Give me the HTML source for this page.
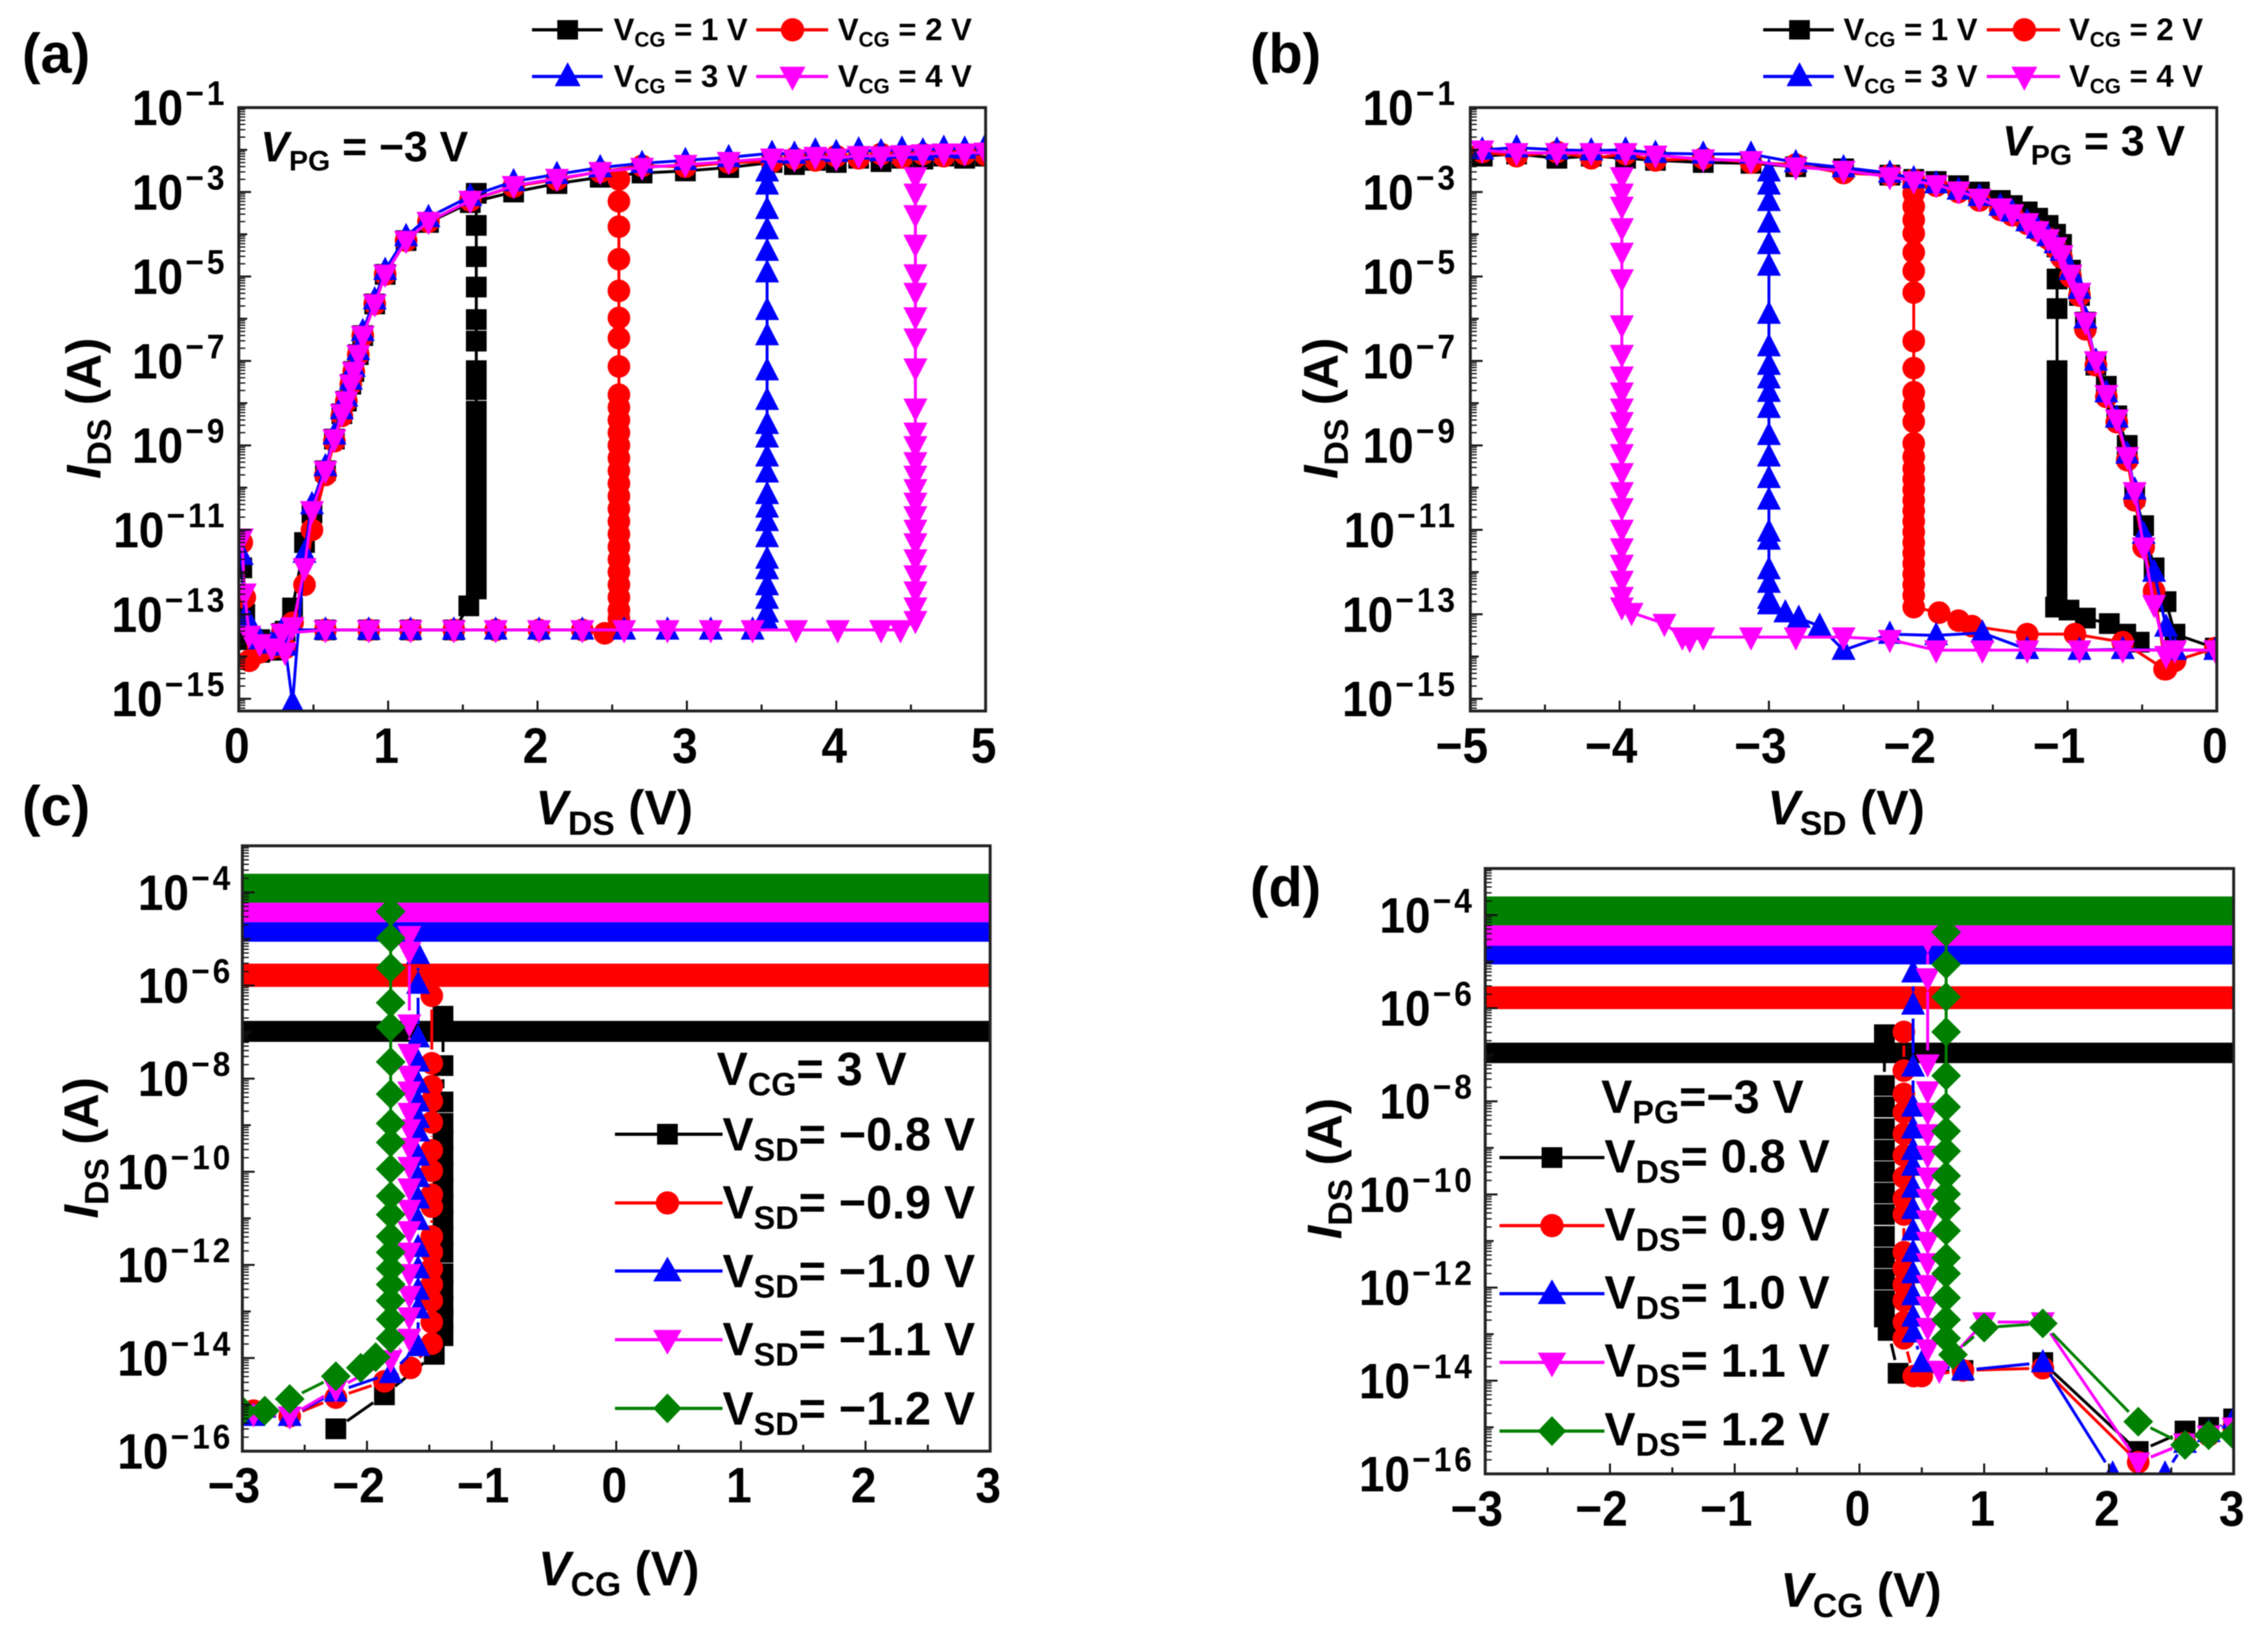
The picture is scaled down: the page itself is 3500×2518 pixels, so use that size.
<!DOCTYPE html>
<html lang="en">
<head>
<meta charset="utf-8">
<title>Transfer and output characteristics, panels a to d</title>
<style>
html,body{margin:0;padding:0;background:#fff;}
svg{display:block;filter:blur(0.7px);}
text{font-family:"Liberation Sans",sans-serif;font-weight:bold;fill:#000;}
.tick{font-size:77px;}
.title{font-size:75px;}
.letter{font-size:86px;}
.leg-s{font-size:48px;}
.leg-l{font-size:72px;}
.note{font-size:66px;}
</style>
</head>
<body>
<svg id="figure" xmlns="http://www.w3.org/2000/svg" width="3500" height="2518" viewBox="0 0 3500 2518">
<rect width="3500" height="2518" fill="#fff"/>
<defs>
<clipPath id="clip-a"><rect x="368" y="166" width="1153" height="931"/></clipPath>
<clipPath id="clip-b"><rect x="2269" y="166" width="1152" height="931"/></clipPath>
<clipPath id="clip-c"><rect x="374" y="1305" width="1154" height="934"/></clipPath>
<clipPath id="clip-d"><rect x="2292" y="1340" width="1155" height="934"/></clipPath>
</defs>

<g id="panel-a"></g>
<g id="panel-b"></g>
<g id="panel-c"></g>
<g id="panel-d"></g>

<text class="letter" x="34" y="112">(a)</text>
<text class="letter" x="1929" y="112">(b)</text>
<text class="letter" x="34" y="1273">(c)</text>
<text class="letter" x="1929" y="1398">(d)</text>

<!-- Axis titles -->
<text class="title" x="948" y="1272" text-anchor="middle"><tspan font-style="italic">V</tspan><tspan dy="16" font-size="52">DS</tspan><tspan dy="-16"> (V)</tspan></text>
<text class="title" x="2849" y="1272" text-anchor="middle"><tspan font-style="italic">V</tspan><tspan dy="16" font-size="52">SD</tspan><tspan dy="-16"> (V)</tspan></text>
<text class="title" x="955" y="2446" text-anchor="middle"><tspan font-style="italic">V</tspan><tspan dy="16" font-size="52">CG</tspan><tspan dy="-16"> (V)</tspan></text>
<text class="title" x="2872" y="2479" text-anchor="middle"><tspan font-style="italic">V</tspan><tspan dy="16" font-size="52">CG</tspan><tspan dy="-16"> (V)</tspan></text>
<text class="title" transform="translate(155 630) rotate(-90)" text-anchor="middle"><tspan font-style="italic">I</tspan><tspan dy="16" font-size="52">DS</tspan><tspan dy="-16"> (A)</tspan></text>
<text class="title" transform="translate(2064 630) rotate(-90)" text-anchor="middle"><tspan font-style="italic">I</tspan><tspan dy="16" font-size="52">DS</tspan><tspan dy="-16"> (A)</tspan></text>
<text class="title" transform="translate(151 1771) rotate(-90)" text-anchor="middle"><tspan font-style="italic">I</tspan><tspan dy="16" font-size="52">DS</tspan><tspan dy="-16"> (A)</tspan></text>
<text class="title" transform="translate(2070 1803) rotate(-90)" text-anchor="middle"><tspan font-style="italic">I</tspan><tspan dy="16" font-size="52">DS</tspan><tspan dy="-16"> (A)</tspan></text>

<!-- Annotations -->
<text class="note" x="402" y="249"><tspan font-style="italic">V</tspan><tspan dy="14" font-size="44">PG</tspan><tspan dy="-14"> = −3 V</tspan></text>
<text class="note" x="3090" y="240"><tspan font-style="italic">V</tspan><tspan dy="14" font-size="44">PG</tspan><tspan dy="-14"> = 3 V</tspan></text>
<text class="leg-l" x="1106" y="1674">V<tspan dy="16" font-size="50">CG</tspan><tspan dy="-16">= 3 V</tspan></text>
<text class="leg-l" x="2471" y="1717">V<tspan dy="16" font-size="50">PG</tspan><tspan dy="-16">=−3 V</tspan></text>

<!-- Legend panel a -->
<g>
<g><line x1="821" x2="930" y1="46" y2="46" stroke="#000" stroke-width="5"/><rect x="860" y="31" width="32" height="30" fill="#000"/><text class="leg-s" x="947" y="62">V<tspan dy="10" font-size="32">CG</tspan><tspan dy="-10"> = 1 V</tspan></text></g>
<g><line x1="1167" x2="1278" y1="46" y2="46" stroke="#f00" stroke-width="5"/><circle cx="1223" cy="46" r="18" fill="#f00"/><text class="leg-s" x="1293" y="62">V<tspan dy="10" font-size="32">CG</tspan><tspan dy="-10"> = 2 V</tspan></text></g>
<g><line x1="821" x2="930" y1="118" y2="118" stroke="#00f" stroke-width="5"/><polygon points="876,96 896,133 856,133" fill="#00f"/><text class="leg-s" x="947" y="134">V<tspan dy="10" font-size="32">CG</tspan><tspan dy="-10"> = 3 V</tspan></text></g>
<g><line x1="1167" x2="1278" y1="118" y2="118" stroke="#f0f" stroke-width="5"/><polygon points="1223,140 1203,103 1243,103" fill="#f0f"/><text class="leg-s" x="1293" y="134">V<tspan dy="10" font-size="32">CG</tspan><tspan dy="-10"> = 4 V</tspan></text></g>
</g>

<!-- Legend panel b -->
<g>
<g><line x1="2721" x2="2830" y1="46" y2="46" stroke="#000" stroke-width="5"/><rect x="2761" y="31" width="32" height="30" fill="#000"/><text class="leg-s" x="2845" y="62">V<tspan dy="10" font-size="32">CG</tspan><tspan dy="-10"> = 1 V</tspan></text></g>
<g><line x1="3066" x2="3179" y1="46" y2="46" stroke="#f00" stroke-width="5"/><circle cx="3124" cy="46" r="18" fill="#f00"/><text class="leg-s" x="3193" y="62">V<tspan dy="10" font-size="32">CG</tspan><tspan dy="-10"> = 2 V</tspan></text></g>
<g><line x1="2721" x2="2830" y1="118" y2="118" stroke="#00f" stroke-width="5"/><polygon points="2777,96 2797,133 2757,133" fill="#00f"/><text class="leg-s" x="2845" y="134">V<tspan dy="10" font-size="32">CG</tspan><tspan dy="-10"> = 3 V</tspan></text></g>
<g><line x1="3066" x2="3179" y1="118" y2="118" stroke="#f0f" stroke-width="5"/><polygon points="3124,140 3104,103 3144,103" fill="#f0f"/><text class="leg-s" x="3193" y="134">V<tspan dy="10" font-size="32">CG</tspan><tspan dy="-10"> = 4 V</tspan></text></g>
</g>

<!-- Legend panel c -->
<g>
<g><line x1="949" x2="1115" y1="1750" y2="1750" stroke="#000" stroke-width="5"/><rect x="1014" y="1734" width="32" height="32" fill="#000"/><text class="leg-l" x="1115" y="1775">V<tspan dy="16" font-size="50">SD</tspan><tspan dy="-16">= −0.8 V</tspan></text></g>
<g><line x1="949" x2="1115" y1="1856" y2="1856" stroke="#f00" stroke-width="5"/><circle cx="1030" cy="1856" r="18" fill="#f00"/><text class="leg-l" x="1115" y="1880">V<tspan dy="16" font-size="50">SD</tspan><tspan dy="-16">= −0.9 V</tspan></text></g>
<g><line x1="949" x2="1115" y1="1961" y2="1961" stroke="#00f" stroke-width="5"/><polygon points="1030,1939 1052,1977 1008,1977" fill="#00f"/><text class="leg-l" x="1115" y="1986">V<tspan dy="16" font-size="50">SD</tspan><tspan dy="-16">= −1.0 V</tspan></text></g>
<g><line x1="949" x2="1115" y1="2067" y2="2067" stroke="#f0f" stroke-width="5"/><polygon points="1030,2090 1008,2052 1052,2052" fill="#f0f"/><text class="leg-l" x="1115" y="2091">V<tspan dy="16" font-size="50">SD</tspan><tspan dy="-16">= −1.1 V</tspan></text></g>
<g><line x1="949" x2="1115" y1="2173" y2="2173" stroke="#008000" stroke-width="5"/><polygon points="1030,2150 1052,2173 1030,2196 1008,2173" fill="#008000"/><text class="leg-l" x="1115" y="2198">V<tspan dy="16" font-size="50">SD</tspan><tspan dy="-16">= −1.2 V</tspan></text></g>
</g>

<!-- Legend panel d -->
<g>
<g><line x1="2314" x2="2476" y1="1786" y2="1786" stroke="#000" stroke-width="5"/><rect x="2379" y="1770" width="32" height="32" fill="#000"/><text class="leg-l" x="2476" y="1809">V<tspan dy="16" font-size="50">DS</tspan><tspan dy="-16">= 0.8 V</tspan></text></g>
<g><line x1="2314" x2="2476" y1="1891" y2="1891" stroke="#f00" stroke-width="5"/><circle cx="2395" cy="1891" r="18" fill="#f00"/><text class="leg-l" x="2476" y="1914">V<tspan dy="16" font-size="50">DS</tspan><tspan dy="-16">= 0.9 V</tspan></text></g>
<g><line x1="2314" x2="2476" y1="1996" y2="1996" stroke="#00f" stroke-width="5"/><polygon points="2395,1974 2417,2012 2373,2012" fill="#00f"/><text class="leg-l" x="2476" y="2019">V<tspan dy="16" font-size="50">DS</tspan><tspan dy="-16">= 1.0 V</tspan></text></g>
<g><line x1="2314" x2="2476" y1="2102" y2="2102" stroke="#f0f" stroke-width="5"/><polygon points="2395,2125 2373,2087 2417,2087" fill="#f0f"/><text class="leg-l" x="2476" y="2124">V<tspan dy="16" font-size="50">DS</tspan><tspan dy="-16">= 1.1 V</tspan></text></g>
<g><line x1="2314" x2="2476" y1="2208" y2="2208" stroke="#008000" stroke-width="5"/><polygon points="2395,2185 2417,2208 2395,2231 2373,2208" fill="#008000"/><text class="leg-l" x="2476" y="2230">V<tspan dy="16" font-size="50">DS</tspan><tspan dy="-16">= 1.2 V</tspan></text></g>
</g>
</svg>

<script>
/* ---------- Tick values ---------- */
const aXTicks = [0, 1, 2, 3, 4, 5];
const bXTicks = [-5, -4, -3, -2, -1, 0];
const cXTicks = [-3, -2, -1, 0, 1, 2, 3];
const dXTicks = [-3, -2, -1, 0, 1, 2, 3];
const abYExponents = [-1, -3, -5, -7, -9, -11, -13, -15];
const cdYExponents = [-4, -6, -8, -10, -12, -14, -16];

/* ---------- Panel a: VDS sweep, values are log10(IDS) ---------- */
const aOnV = [0.02,0.04,0.07,0.14,0.22,0.31,0.36,0.44,0.49,0.58,0.64,0.69,0.72,0.75,0.77,0.80,0.83,0.91,0.98,1.12,1.27,1.55,1.84,2.13,2.42,2.7,2.99,3.28,3.57,3.72,3.86,4.0,4.15,4.3,4.44,4.58,4.72,4.86,5.0];
const aBlackOnI = [-11.9,-13.0,-13.6,-13.9,-13.85,-13.4,-12.85,-11.3,-10.6,-9.6,-8.85,-8.25,-7.95,-7.55,-7.25,-6.85,-6.4,-5.65,-4.95,-4.15,-3.72,-3.25,-3.0,-2.8,-2.65,-2.55,-2.5,-2.42,-2.3,-2.35,-2.25,-2.3,-2.2,-2.28,-2.2,-2.22,-2.15,-2.2,-2.15];
const aRedOnI = [-11.3,-12.6,-14.1,-13.9,-13.8,-13.8,-13.2,-12.3,-11.0,-9.7,-8.9,-8.3,-7.95,-7.55,-7.25,-6.85,-6.4,-5.65,-4.95,-4.15,-3.7,-3.2,-2.87,-2.7,-2.52,-2.38,-2.4,-2.3,-2.28,-2.2,-2.25,-2.15,-2.2,-2.1,-2.18,-2.1,-2.15,-2.1,-2.12];
const aBlueOnI = [-11.6,-13.1,-13.2,-13.6,-13.7,-13.75,-15.1,-11.55,-10.4,-9.5,-8.75,-8.15,-7.85,-7.45,-7.15,-6.75,-6.3,-5.55,-4.85,-4.05,-3.6,-3.1,-2.75,-2.58,-2.42,-2.32,-2.25,-2.18,-2.08,-2.1,-2.02,-2.06,-2.0,-2.04,-1.98,-2.02,-1.96,-1.98,-1.9];
const aMagentaOnI = [-11.2,-12.5,-13.5,-13.7,-13.8,-13.9,-13.3,-11.9,-10.55,-9.6,-8.85,-8.25,-7.95,-7.55,-7.25,-6.85,-6.4,-5.65,-4.95,-4.15,-3.7,-3.2,-2.85,-2.68,-2.52,-2.42,-2.35,-2.28,-2.2,-2.22,-2.16,-2.2,-2.14,-2.15,-2.12,-2.1,-2.08,-2.08,-2.06];

const aBlackSwitchV = [1.59];
const aBlackSwitchI = [-3.03,-3.79,-4.53,-5.25,-6.02,-6.53,-7.23,-7.68,-8.19,-8.48,-8.76,-9.04,-9.32,-9.6,-9.88,-10.16,-10.44,-10.72,-11.0,-11.28,-11.56,-11.84,-12.12,-12.4];
const aBlackTailV = [1.54,1.44,1.15,0.87,0.58,0.29,0.14];
const aBlackTailI = [-12.8,-13.37,-13.37,-13.37,-13.37,-13.45,-13.6];

const aRedSwitchV = [2.545];
const aRedSwitchI = [-2.7,-3.22,-3.82,-4.59,-5.34,-5.98,-6.46,-7.13,-7.8,-8.1,-8.4,-8.7,-9.0,-9.3,-9.6,-9.9,-10.2,-10.5,-10.8,-11.1,-11.4,-11.7,-12.0,-12.3,-12.6,-12.9,-13.1];
const aRedTailV = [2.45,2.3,2.01,1.72,1.44,1.15,0.87,0.58,0.29];
const aRedTailI = [-13.45,-13.37,-13.37,-13.37,-13.37,-13.37,-13.37,-13.37,-13.45];

const aBlueSwitchV = [3.537];
const aBlueSwitchI = [-2.52,-2.83,-3.41,-3.89,-4.4,-4.91,-5.8,-6.4,-7.23,-7.93,-8.5,-8.82,-9.27,-9.65,-10.16,-10.48,-10.8,-11.18,-11.69,-11.94,-12.32,-12.64,-12.96,-13.15];
const aBlueTailV = [3.44,3.16,2.87,2.58,2.3,2.01,1.72,1.44,1.15,0.87,0.58,0.29];
const aBlueTailI = [-13.37,-13.37,-13.37,-13.37,-13.37,-13.37,-13.37,-13.37,-13.37,-13.37,-13.37,-13.37];

const aMagentaSwitchV = [4.53];
const aMagentaSwitchI = [-2.64,-3.03,-3.54,-4.24,-4.94,-5.38,-5.96,-6.46,-7.17,-8.12,-8.69,-9.01,-9.39,-9.71,-10.03,-10.35,-10.67,-10.99,-11.31,-11.69,-12.07,-12.45,-12.83,-13.15];
const aMagentaTailV = [4.43,4.3,4.01,3.73,3.44,3.16,2.87,2.58,2.3,2.01,1.72,1.44,1.15,0.87,0.58,0.29];
const aMagentaTailI = [-13.37,-13.37,-13.37,-13.37,-13.37,-13.37,-13.37,-13.37,-13.37,-13.37,-13.37,-13.37,-13.37,-13.37,-13.37,-13.45];

/* ---------- Panel b: VSD sweep, values are log10(IDS) ---------- */
const bOnV = [-4.92,-4.69,-4.42,-4.19,-3.96,-3.76,-3.44,-3.12,-2.82,-2.5,-2.19,-2.03,-1.88,-1.73,-1.59,-1.45,-1.37,-1.27,-1.2,-1.13,-1.08,-1.04,-0.98,-0.92,-0.88,-0.81,-0.74,-0.67,-0.6,-0.55,-0.49,-0.42,-0.34,-0.28,-0.01];
const bBlackOnI = [-2.15,-2.1,-2.2,-2.15,-2.2,-2.25,-2.3,-2.32,-2.4,-2.45,-2.6,-2.7,-2.75,-2.85,-3.0,-3.2,-3.32,-3.47,-3.62,-3.79,-4.0,-4.24,-4.85,-5.45,-6.08,-7.1,-7.6,-8.3,-9.0,-10.2,-10.9,-11.9,-12.7,-13.47,-13.8];
const bRedOnI = [-2.05,-2.15,-2.05,-2.2,-2.1,-2.25,-2.2,-2.3,-2.35,-2.55,-2.6,-2.72,-2.85,-3.0,-3.2,-3.42,-3.55,-3.75,-3.92,-4.1,-4.32,-4.55,-5.0,-5.45,-6.25,-7.1,-7.85,-8.45,-9.35,-10.3,-11.41,-12.45,-14.3,-14.1,-13.8];
const bBlueOnI = [-2.0,-1.95,-2.0,-2.02,-2.0,-2.08,-2.1,-2.1,-2.3,-2.42,-2.55,-2.68,-2.8,-2.95,-3.1,-3.33,-3.47,-3.7,-3.87,-4.05,-4.22,-4.4,-4.85,-5.3,-6.0,-7.0,-7.75,-8.35,-9.2,-10.05,-11.1,-12.0,-13.3,-13.85,-13.85];
const bMagentaOnI = [-2.01,-2.07,-2.07,-2.07,-2.07,-2.13,-2.22,-2.26,-2.41,-2.49,-2.64,-2.74,-2.83,-2.98,-3.15,-3.38,-3.52,-3.73,-3.92,-4.11,-4.3,-4.49,-4.95,-5.38,-6.08,-7.0,-7.8,-8.38,-9.27,-10.1,-11.41,-12.77,-13.98,-13.85,-13.85];

const bBlackSwitchV = [-1.07];
const bBlackSwitchI = [-4.3,-5.06,-5.76,-7.23,-7.6,-7.9,-8.2,-8.5,-8.8,-9.1,-9.4,-9.7,-10.0,-10.3,-10.6,-10.9,-11.18,-11.41,-11.82,-12.07,-12.32,-12.58,-12.77];
const bBlackTailV = [-1.08,-0.99,-0.88,-0.72,-0.61,-0.52];
const bBlackTailI = [-12.83,-12.9,-13.09,-13.22,-13.47,-13.66];

const bRedSwitchV = [-2.03];
const bRedSwitchI = [-2.83,-3.03,-3.34,-3.66,-3.98,-4.43,-4.87,-5.38,-6.53,-7.17,-7.74,-8.06,-8.44,-8.95,-9.27,-9.55,-9.8,-10.05,-10.3,-10.55,-10.8,-11.05,-11.3,-11.55,-11.8,-12.05,-12.3,-12.55,-12.83];
const bRedTailV = [-1.86,-1.73,-1.64,-1.27,-0.95,-0.63,-0.35];
const bRedTailI = [-12.96,-13.15,-13.28,-13.47,-13.47,-13.66,-14.3];

const bBlueSwitchV = [-3.0];
const bBlueSwitchI = [-2.52,-2.83,-3.22,-3.73,-4.24,-4.75,-5.89,-6.66,-7.1,-7.42,-7.74,-8.12,-8.76,-9.27,-9.78,-10.29,-11.05,-11.24,-11.94,-12.26,-12.64,-12.77];
const bBlueTailV = [-2.89,-2.8,-2.66,-2.5,-2.19,-1.88,-1.57,-1.27,-0.92,-0.63,-0.28,-0.01];
const bBlueTailI = [-12.96,-13.09,-13.28,-13.85,-13.47,-13.5,-13.44,-13.83,-13.85,-13.83,-13.85,-13.85];

const bMagentaSwitchV = [-3.985];
const bMagentaSwitchI = [-2.64,-3.03,-3.34,-3.85,-4.43,-5.06,-6.15,-6.85,-7.36,-7.74,-8.12,-8.44,-8.82,-9.2,-9.65,-10.1,-10.48,-10.99,-11.43,-11.82,-12.2,-12.58,-12.83];
const bMagentaTailV = [-3.92,-3.7,-3.58,-3.53,-3.44,-3.12,-2.82,-2.5,-2.19,-1.88,-1.57,-1.27,-0.92,-0.63,-0.28,-0.01];
const bMagentaTailI = [-12.96,-13.22,-13.54,-13.6,-13.54,-13.54,-13.54,-13.54,-13.6,-13.85,-13.85,-13.85,-13.85,-13.85,-13.85,-13.85];

/* ---------- Panel c: VCG sweep, on-state bands and switching columns ---------- */
const cBandTopI = [-6.76,-5.53,-4.64,-4.22,-3.6];
const cBandLowI = [-7.21,-6.03,-5.06,-4.64,-4.22];

const cBlackSwitchV = [-1.39];
const cBlackSwitchI = [-6.66,-7.72,-8.5,-8.96,-9.31,-9.66,-10.0,-10.35,-10.69,-11.04,-11.39,-11.73,-12.19,-12.54,-12.89,-13.17,-13.52];
const cBlackTailV = [-1.46,-1.86,-2.25];
const cBlackTailI = [-13.92,-14.79,-15.52];

const cRedSwitchV = [-1.48];
const cRedSwitchI = [-6.22,-7.67,-8.16,-8.48,-8.94,-9.54,-9.98,-10.49,-10.75,-11.39,-11.73,-12.08,-12.42,-12.77,-13.23,-13.69];
const cRedTailV = [-1.65,-1.86,-2.25,-2.62,-2.91];
const cRedTailI = [-14.21,-14.5,-14.85,-15.25,-15.13];

const cBlueSwitchV = [-1.59];
const cBlueSwitchI = [-5.33,-5.97,-7.12,-7.64,-8.1,-8.5,-8.85,-9.14,-9.66,-10.12,-10.58,-11.04,-11.62,-12.08,-12.54,-12.94,-13.75];
const cBlueTailV = [-1.81,-2.25,-2.62,-2.91];
const cBlueTailI = [-14.33,-14.73,-15.25,-15.25];

const cMagentaSwitchV = [-1.66];
const cMagentaSwitchI = [-4.93,-5.27,-6.83,-7.46,-7.93,-8.27,-8.73,-9.08,-9.48,-9.89,-10.35,-10.81,-11.27,-11.73,-12.19,-12.66,-13.12,-13.58];
const cMagentaTailV = [-1.81,-2.25,-2.62,-2.91];
const cMagentaTailI = [-14.04,-14.67,-15.25,-15.2];

const cGreenSwitchV = [-1.81];
const cGreenSwitchI = [-4.41,-4.98,-5.62,-6.37,-6.89,-7.64,-8.33,-8.96,-9.37,-9.94,-10.52,-10.92,-11.39,-11.73,-12.08,-12.42,-12.77,-13.17,-13.58];
const cGreenTailV = [-1.93,-2.05,-2.25,-2.62,-2.82,-3.0];
const cGreenTailI = [-13.98,-14.21,-14.39,-14.88,-15.13,-15.13];

/* ---------- Panel d: VCG sweep, on-state bands and switching columns ---------- */
const dBandTopI = [-6.74,-5.53,-4.64,-4.22,-3.6];
const dBandLowI = [-7.18,-6.02,-5.06,-4.66,-4.22];

const dBlackSwitchV = [0.2];
const dBlackSwitchI = [-6.57,-7.66,-8.12,-8.59,-9.05,-9.51,-9.97,-10.43,-10.9,-11.36,-11.82,-12.28,-12.63];
const dBlackTailV = [0.23,0.31,0.83,1.47,2.235,2.61,2.8,3.0];
const dBlackTailI = [-12.92,-13.84,-13.78,-13.61,-15.52,-15.08,-15.0,-14.82];

const dRedSwitchV = [0.356];
const dRedSwitchI = [-6.51,-7.34,-7.84,-8.24,-8.7,-9.16,-9.63,-10.09,-10.43,-11.24,-11.59,-11.94,-12.28,-12.74,-13.09];
const dRedTailV = [0.435,0.5,0.83,1.47,2.235,2.61,2.8,3.0];
const dRedTailI = [-13.9,-13.9,-13.78,-13.73,-15.75,-15.34,-15.17,-15.0];

const dBlueSwitchV = [0.43];
const dBlueSwitchI = [-5.24,-5.93,-7.26,-8.12,-8.59,-9.05,-9.39,-9.86,-10.32,-10.78,-11.24,-11.7,-12.17,-12.63,-12.97];
const dBlueTailV = [0.5,0.83,1.47,2.03,2.235,2.45,2.61,2.8,3.0];
const dBlueTailI = [-13.61,-13.78,-13.61,-16.0,-16.8,-16.0,-15.34,-15.11,-14.82];

const dMagentaSwitchV = [0.547];
const dMagentaSwitchI = [-4.54,-5.35,-7.2,-7.78,-8.24,-8.7,-9.16,-9.63,-10.09,-10.55,-11.01,-11.47,-11.94,-12.4,-12.86,-13.32];
const dMagentaTailV = [0.64,1.0,1.47,2.235,2.61,2.8,3.0];
const dMagentaTailI = [-13.78,-12.74,-12.74,-15.75,-15.34,-15.17,-15.0];

const dGreenSwitchV = [0.695];
const dGreenSwitchI = [-4.37,-5.06,-5.76,-6.51,-7.45,-8.12,-8.64,-9.07,-9.6,-9.99,-10.3,-10.78,-11.36,-11.7,-12.22,-12.69,-13.09];
const dGreenTailV = [0.75,1.0,1.47,2.235,2.61,2.8,3.0];
const dGreenTailI = [-13.44,-12.86,-12.77,-14.88,-15.38,-15.17,-15.17];

/* ---------- Rendering ---------- */
const NS = 'http://www.w3.org/2000/svg';
const COLORS = {black:'#000000', red:'#ff0000', blue:'#0000ff', magenta:'#ff00ff', green:'#008000'};
const SHAPES = {black:'square', red:'circle', blue:'up', magenta:'down', green:'diamond'};

function make(tag, attrs, parent) {
  const el = document.createElementNS(NS, tag);
  for (const k in attrs) el.setAttribute(k, attrs[k]);
  parent.appendChild(el);
  return el;
}

function scales(f) {
  return {
    x: function (v) { return f.left + (v - f.xMin) / (f.xMax - f.xMin) * (f.right - f.left); },
    y: function (l) { return f.bottom - (l - f.yMin) / (f.yMax - f.yMin) * (f.bottom - f.top); }
  };
}

function fmt(n) { return String(n).replace('-', '\u2212'); }

function drawMarker(g, shape, cx, cy, color, key) {
  let m;
  if (shape === 'square') {
    m = make('rect', {x: cx - 16, y: cy - 16, width: 32, height: 32, fill: color}, g);
  } else if (shape === 'circle') {
    m = make('circle', {cx: cx, cy: cy, r: 17.5, fill: color}, g);
  } else if (shape === 'up') {
    m = make('polygon', {points: cx + ',' + (cy - 21) + ' ' + (cx + 18.5) + ',' + (cy + 15) + ' ' + (cx - 18.5) + ',' + (cy + 15), fill: color}, g);
  } else if (shape === 'down') {
    m = make('polygon', {points: cx + ',' + (cy + 21) + ' ' + (cx - 18.5) + ',' + (cy - 15) + ' ' + (cx + 18.5) + ',' + (cy - 15), fill: color}, g);
  } else {
    m = make('polygon', {points: cx + ',' + (cy - 23) + ' ' + (cx + 23) + ',' + cy + ' ' + cx + ',' + (cy + 23) + ' ' + (cx - 23) + ',' + cy, fill: color}, g);
  }
  
  
}

function drawLine(g, xs, ys, color, key, trim) {
  let d = '';
  for (let i = 0; i < xs.length - 1; i++) {
    const dx = xs[i + 1] - xs[i];
    const dy = ys[i + 1] - ys[i];
    const len = Math.hypot(dx, dy);
    if (len <= trim * 2) continue;
    const ux = dx / len;
    const uy = dy / len;
    d += 'M' + (xs[i] + ux * trim) + ' ' + (ys[i] + uy * trim) + 'L' + (xs[i + 1] - ux * trim) + ' ' + (ys[i + 1] - uy * trim);
  }
  const line = make('path', {d: d, fill: 'none', stroke: color, 'stroke-width': 4.5}, g);
  
  
}

function drawSeries(host, s, name, band, on, switchV, switchI, tailV, tailI) {
  const color = COLORS[name];
  const shape = SHAPES[name];
  const g = make('g', {}, host);
  
  

  if (band) {
    const r = make('rect', {x: s.x(s.f.xMin), width: s.x(s.f.xMax) - s.x(s.f.xMin), y: s.y(band[0]), height: s.y(band[1]) - s.y(band[0]), fill: color}, g);
    
    
  }

  const parts = [];
  if (on) parts.push([on[0], on[1]]);
  const vx = switchI.map(function () { return switchV[0]; }).concat(tailV);
  const vy = switchI.concat(tailI);
  parts.push([vx, vy]);

  parts.forEach(function (p) {
    drawLine(g, p[0].map(s.x), p[1].map(s.y), color, name, s.f.trim);
  });
  parts.forEach(function (p) {
    p[0].forEach(function (v, i) {
      drawMarker(g, shape, s.x(v), s.y(p[1][i]), color, name);
    });
  });
}

function drawAxes(host, s, xTicks, yExps, yLabelX, xLabelY) {
  const f = s.f;
  const ticks = make('g', {stroke: '#111', 'stroke-width': 3}, host);
  
  

  xTicks.forEach(function (t, i) {
    const px = s.x(t);
    make('line', {x1: px, x2: px, y1: f.bottom, y2: f.bottom - 16}, ticks);
    if (i < xTicks.length - 1) {
      const mid = s.x((t + xTicks[i + 1]) / 2);
      make('line', {x1: mid, x2: mid, y1: f.bottom, y2: f.bottom - 10}, ticks);
    }
    const labelX = px - (t < 0 ? 13 : 3);
    const label = make('text', {transform: 'translate(' + labelX + ' ' + xLabelY + ') scale(0.92 1)', 'text-anchor': 'middle', 'class': 'tick'}, host);
    label.textContent = fmt(t);
    
    
  });

  for (let d = Math.floor(f.yMin); d <= f.yMax; d++) {
    if (d >= f.yMin) {
      const py = s.y(d);
      const major = yExps.indexOf(d) >= 0;
      make('line', {x1: f.left, x2: f.left + (major ? 19 : 13), y1: py, y2: py}, ticks);
    }
    for (let k = 2; k < 10; k++) {
      const l = d + Math.log10(k);
      if (l > f.yMin && l < f.yMax) {
        const pm = s.y(l);
        make('line', {x1: f.left, x2: f.left + 10, y1: pm, y2: pm, 'stroke-width': 2}, ticks);
      }
    }
  }

  yExps.forEach(function (e) {
    const py = s.y(e);
    const label = make('text', {transform: 'translate(' + (yLabelX + 5) + ' ' + (py + 27) + ') scale(0.92 1)', 'text-anchor': 'end', 'class': 'tick'}, host);
    
    
    const base = make('tspan', {}, label);
    base.textContent = '10';
    const sup = make('tspan', {dx: 4, dy: -31, 'font-size': 53, 'letter-spacing': 5}, label);
    sup.textContent = fmt(e);
  });

  const frame = make('rect', {x: f.left, y: f.top, width: f.right - f.left, height: f.bottom - f.top, fill: 'none', stroke: '#222', 'stroke-width': 4.5}, host);
  
  
}

function panel(id, f) {
  const host = document.getElementById('panel-' + id);
  const s = scales(f);
  s.f = f;
  const marks = make('g', {'clip-path': 'url(#clip-' + id + ')'}, host);
  
  
  return {host: host, s: s, marks: marks};
}

const A = panel('a', {left: 368.5, right: 1521, top: 166, bottom: 1097, xMin: 0, xMax: 5, yMin: -15.29, yMax: -1, trim: 0});
drawSeries(A.marks, A.s, 'black', null, [aOnV, aBlackOnI], aBlackSwitchV, aBlackSwitchI, aBlackTailV, aBlackTailI);
drawSeries(A.marks, A.s, 'red', null, [aOnV, aRedOnI], aRedSwitchV, aRedSwitchI, aRedTailV, aRedTailI);
drawSeries(A.marks, A.s, 'blue', null, [aOnV, aBlueOnI], aBlueSwitchV, aBlueSwitchI, aBlueTailV, aBlueTailI);
drawSeries(A.marks, A.s, 'magenta', null, [aOnV, aMagentaOnI], aMagentaSwitchV, aMagentaSwitchI, aMagentaTailV, aMagentaTailI);
drawAxes(A.host, A.s, aXTicks, abYExponents, 346, 1177);

const B = panel('b', {left: 2269, right: 3421, top: 166, bottom: 1097, xMin: -5, xMax: 0, yMin: -15.29, yMax: -1, trim: 0});
drawSeries(B.marks, B.s, 'black', null, [bOnV, bBlackOnI], bBlackSwitchV, bBlackSwitchI, bBlackTailV, bBlackTailI);
drawSeries(B.marks, B.s, 'red', null, [bOnV, bRedOnI], bRedSwitchV, bRedSwitchI, bRedTailV, bRedTailI);
drawSeries(B.marks, B.s, 'blue', null, [bOnV, bBlueOnI], bBlueSwitchV, bBlueSwitchI, bBlueTailV, bBlueTailI);
drawSeries(B.marks, B.s, 'magenta', null, [bOnV, bMagentaOnI], bMagentaSwitchV, bMagentaSwitchI, bMagentaTailV, bMagentaTailI);
drawAxes(B.host, B.s, bXTicks, abYExponents, 2245, 1177);

const C = panel('c', {left: 374, right: 1528, top: 1305, bottom: 2239, xMin: -3, xMax: 3, yMin: -16, yMax: -3, trim: 21});
drawSeries(C.marks, C.s, 'black', [cBandTopI[0], cBandLowI[0]], null, cBlackSwitchV, cBlackSwitchI, cBlackTailV, cBlackTailI);
drawSeries(C.marks, C.s, 'red', [cBandTopI[1], cBandLowI[1]], null, cRedSwitchV, cRedSwitchI, cRedTailV, cRedTailI);
drawSeries(C.marks, C.s, 'blue', [cBandTopI[2], cBandLowI[2]], null, cBlueSwitchV, cBlueSwitchI, cBlueTailV, cBlueTailI);
drawSeries(C.marks, C.s, 'magenta', [cBandTopI[3], cBandLowI[3]], null, cMagentaSwitchV, cMagentaSwitchI, cMagentaTailV, cMagentaTailI);
drawSeries(C.marks, C.s, 'green', [cBandTopI[4], cBandLowI[4]], null, cGreenSwitchV, cGreenSwitchI, cGreenTailV, cGreenTailI);
drawAxes(C.host, C.s, cXTicks, cdYExponents, 355, 2318);

const D = panel('d', {left: 2292, right: 3447, top: 1340, bottom: 2274, xMin: -3, xMax: 3, yMin: -16, yMax: -3, trim: 21});
drawSeries(D.marks, D.s, 'black', [dBandTopI[0], dBandLowI[0]], null, dBlackSwitchV, dBlackSwitchI, dBlackTailV, dBlackTailI);
drawSeries(D.marks, D.s, 'red', [dBandTopI[1], dBandLowI[1]], null, dRedSwitchV, dRedSwitchI, dRedTailV, dRedTailI);
drawSeries(D.marks, D.s, 'blue', [dBandTopI[2], dBandLowI[2]], null, dBlueSwitchV, dBlueSwitchI, dBlueTailV, dBlueTailI);
drawSeries(D.marks, D.s, 'magenta', [dBandTopI[3], dBandLowI[3]], null, dMagentaSwitchV, dMagentaSwitchI, dMagentaTailV, dMagentaTailI);
drawSeries(D.marks, D.s, 'green', [dBandTopI[4], dBandLowI[4]], null, dGreenSwitchV, dGreenSwitchI, dGreenTailV, dGreenTailI);
drawAxes(D.host, D.s, dXTicks, cdYExponents, 2271, 2354);
</script>
</body>
</html>
